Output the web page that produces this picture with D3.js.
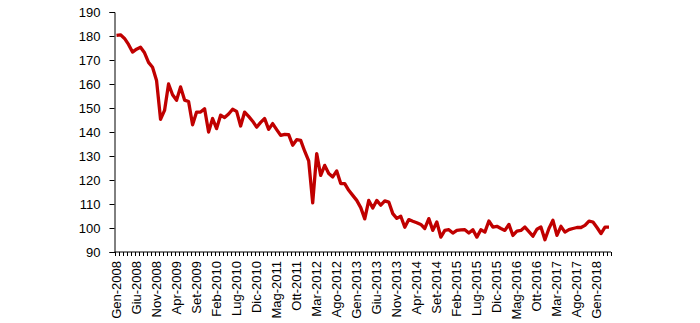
<!doctype html>
<html>
<head>
<meta charset="utf-8">
<title>Indice</title>
<style>
  body { margin: 0; background: #fff; }
  svg text { font-family: "Liberation Sans", Arial, sans-serif; fill: #000; }
</style>
</head>
<body>
<div id="chart"></div>
<script src="https://cdn.jsdelivr.net/npm/d3@7/dist/d3.min.js"></script>
<script>
// mesi in italiano
var monthNames = ["Gen", "Feb", "Mar", "Apr", "Mag", "Giu", "Lug", "Ago", "Set", "Ott", "Nov", "Dic"];
var startYear = 2008;

// valori mensili, un array per anno
var v2008 = [180.3, 180.5, 179, 176.5, 173.3, 174.5, 175.3, 173, 169, 167, 161.5, 145.3];
var v2009 = [149, 160, 155.5, 153.2, 158.8, 153.3, 152.7, 143, 148.3, 148.3, 149.7, 140];
var v2010 = [145.6, 141.4, 147, 146, 147.5, 149.5, 148.6, 142.5, 148.3, 146.5, 144.5, 142];
var v2011 = [144, 145.6, 141.1, 143.5, 141, 138.6, 139, 138.9, 134.5, 136.8, 136.5, 132];
var v2012 = [128, 110.5, 131, 121.9, 126.1, 122.7, 121.3, 123.8, 118.5, 118.5, 115.7, 113.6];
var v2013 = [111.5, 108.5, 103.8, 111.5, 108.3, 111.5, 109.5, 111.3, 110.8, 106, 104, 104.9];
var v2014 = [100.3, 103.5, 102.8, 102.2, 101.5, 99.8, 103.9, 99, 102.5, 96.2, 99, 99.3];
var v2015 = [97.9, 99, 99.2, 99.3, 97.9, 99.3, 96.2, 99.3, 98.3, 102.9, 100.4, 100.7];
var v2016 = [99.8, 99, 101.5, 96.9, 98.7, 99, 100.4, 98.5, 96.6, 99.5, 100.4, 95.1];
var v2017 = [99.8, 103.2, 96.9, 100.7, 98.3, 99.3, 99.8, 100.2, 100.2, 101.1, 102.9, 102.5];
var v2018 = [100.2, 97.7, 100.4, 100.4];

var yTicks = [90, 100, 110, 120, 130, 140, 150, 160, 170, 180, 190];

var values = [].concat(v2008, v2009, v2010, v2011, v2012, v2013, v2014, v2015, v2016, v2017, v2018);

// etichette "Gen-2008", ...
var categories = values.map(function(d, i) {
  return monthNames[i % 12] + "-" + (startYear + Math.floor(i / 12));
});

var width = 700, height = 323;
var margin = {top: 12, right: 89, bottom: 71, left: 114.5};

var svg = d3.select("#chart").append("svg")
  .attr("width", width)
  .attr("height", height);

var x = d3.scaleBand()
  .domain(categories)
  .range([margin.left, width - margin.right]);

var y = d3.scaleLinear()
  .domain([90, 190])
  .range([height - margin.bottom, margin.top]);

// asse y
var yAxis = d3.axisLeft(y)
  .tickValues(yTicks)
  .tickSize(5)
  .tickPadding(9);

var gy = svg.append("g")
  .attr("transform", "translate(" + margin.left + ",0)")
  .call(yAxis);
gy.select(".domain").attr("stroke", "#000");
gy.selectAll(".tick line").attr("stroke", "#000");
gy.selectAll("text").attr("font-size", "13px").attr("fill", "#000");

// asse x: tacche tra le categorie
var baseY = y(90);
var gx = svg.append("g");
gx.append("line")
  .attr("x1", margin.left).attr("x2", width - margin.right)
  .attr("y1", baseY).attr("y2", baseY)
  .attr("stroke", "#000");

var edges = categories.map(function(c) { return x(c); }).concat([width - margin.right]);
gx.selectAll(".mtick")
  .data(edges)
  .enter()
  .append("line")
  .attr("class", "mtick")
  .attr("x1", function(d) { return Math.round(d) + 0.5; })
  .attr("x2", function(d) { return Math.round(d) + 0.5; })
  .attr("y1", baseY)
  .attr("y2", baseY + 4)
  .attr("stroke", "#000");

// etichette ogni 5 mesi, ruotate
gx.selectAll(".xlab")
  .data(categories.filter(function(d, i) { return i % 5 === 0; }))
  .enter()
  .append("text")
  .attr("class", "xlab")
  .attr("font-size", "13px")
  .attr("text-anchor", "end")
  .attr("transform", function(d) {
    var cx = x(d) + x.bandwidth() / 2 + 4.5;
    return "translate(" + cx + "," + (baseY + 9) + ") rotate(-90)";
  })
  .text(function(d) { return d; });

// linea
var line = d3.line()
  .x(function(d, i) { return x(categories[i]) + x.bandwidth() / 2; })
  .y(function(d) { return y(d); });

svg.append("path")
  .attr("d", line(values))
  .attr("fill", "none")
  .attr("stroke", "#C00000")
  .attr("stroke-width", 3.3)
  .attr("stroke-linejoin", "round");
</script>
</body>
</html>
